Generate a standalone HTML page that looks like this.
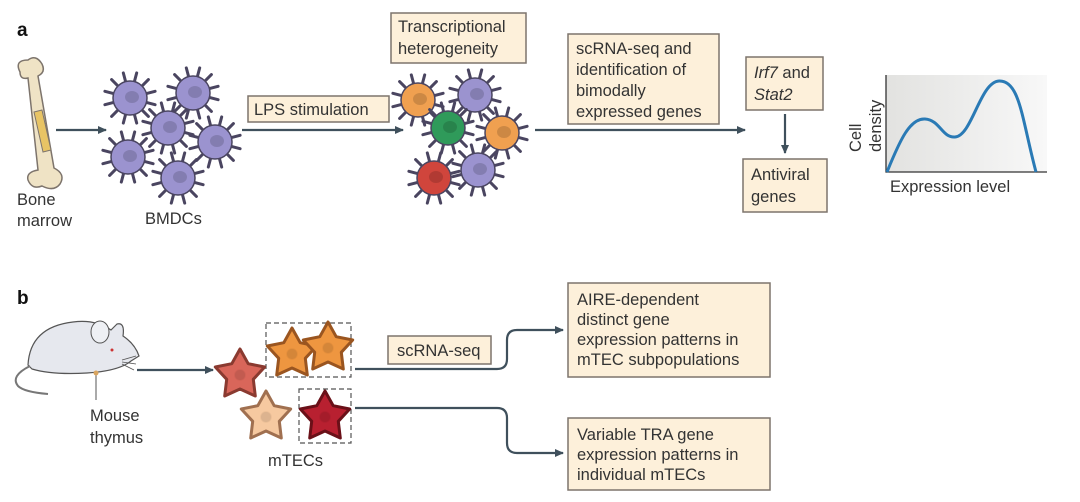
<!DOCTYPE html>
<html><head><meta charset="utf-8"><style>
html,body{margin:0;padding:0;background:#fff;}
svg{display:block;font-family:"Liberation Sans",sans-serif;}
.t{font-size:16.5px;fill:#333;}
.box{fill:#fdf0da;stroke:#7d746c;stroke-width:1.5;}
.ar{stroke:#3f505c;stroke-width:2.2;fill:none;}
</style></head><body>
<svg width="1080" height="502" viewBox="0 0 1080 502" xmlns="http://www.w3.org/2000/svg">
<defs>
<marker id="ah" markerWidth="10" markerHeight="10" refX="8" refY="5" orient="auto" markerUnits="userSpaceOnUse">
<path d="M0 1 L9 5 L0 9 Z" fill="#3f505c"/></marker>
<symbol id="cell" overflow="visible">
<path d="M14.5 3.9L25.1 6.7M10.6 10.6L18.4 18.4M3.9 14.5L6.7 25.1M-3.9 14.5L-6.7 25.1M-10.6 10.6L-18.4 18.4M-14.5 3.9L-25.1 6.7M14.5 -3.9L25.1 -6.7M10.6 -10.6L18.4 -18.4M3.9 -14.5L6.7 -25.1M-3.9 -14.5L-6.7 -25.1M-10.6 -10.6L-18.4 -18.4M-14.5 -3.9L-25.1 -6.7" stroke="currentColor" stroke-width="3" stroke-linecap="round"/>
<circle r="17" stroke="currentColor" stroke-width="1.5"/>
<ellipse cx="2" cy="-1" rx="7" ry="6" fill="#000" opacity="0.15"/>
</symbol>
<symbol id="star" overflow="visible">
<path d="M0 -26 L8.2 -11.3 L24.7 -8 L13.3 4.3 L15.3 21 L0 14 L-15.3 21 L-13.3 4.3 L-24.7 -8 L-8.2 -11.3 Z" stroke="currentColor" stroke-width="3" stroke-linejoin="round"/>
<circle r="5.5" fill="#000" opacity="0.1" stroke="currentColor" stroke-width="0.8"/>
</symbol>
<linearGradient id="gg" x1="0" x2="1" y1="0" y2="0"><stop offset="0" stop-color="#e2e2e0"/><stop offset="1" stop-color="#f8f8f8"/></linearGradient>
</defs>

<text x="17" y="36" style="font-size:19px;font-weight:bold;fill:#111">a</text>
<text x="17" y="304" style="font-size:19px;font-weight:bold;fill:#111">b</text>

<!-- bone -->
<path d="M20 72 q-6 -12 8 -12 q8 -6 14 4 q4 8 -4 12 L54 168 q12 6 6 16 q-6 8 -18 2 q-10 4 -14 -6 q-2 -8 10 -10 L28 78 q-8 2 -8 -6 Z" fill="#efe3c5" stroke="#7d746c" stroke-width="1.5"/>
<path d="M34 112 L42 110 L51 150 L43 152 Z" fill="#e8c465" stroke="#7d746c" stroke-width="1"/>
<text class="t" x="17" y="205">Bone</text>
<text class="t" x="17" y="226">marrow</text>
<line class="ar" x1="56" y1="130" x2="106" y2="130" marker-end="url(#ah)"/>

<!-- BMDCs -->
<g fill="#9b93cf" style="color:#4a4560">
<use href="#cell" x="130" y="98"/><use href="#cell" x="193" y="93"/>
<use href="#cell" x="128" y="157"/><use href="#cell" x="215" y="142"/>
<use href="#cell" x="168" y="128"/><use href="#cell" x="178" y="178"/>
</g>
<text class="t" x="145" y="224">BMDCs</text>

<line class="ar" x1="242" y1="130" x2="403" y2="130" marker-end="url(#ah)"/>
<rect class="box" x="248" y="96" width="141" height="26"/>
<text class="t" x="254" y="115">LPS stimulation</text>

<rect class="box" x="391" y="13" width="135" height="50"/>
<text class="t" x="398" y="32">Transcriptional</text>
<text class="t" x="398" y="54">heterogeneity</text>

<!-- hetero cells -->
<g style="color:#4a4560">
<use href="#cell" x="418" y="100" fill="#f0a050"/>
<use href="#cell" x="475" y="95" fill="#9b93cf"/>
<use href="#cell" x="502" y="133" fill="#f0a050"/>
<use href="#cell" x="478" y="170" fill="#9b93cf"/>
<use href="#cell" x="434" y="178" fill="#d0453c"/>
<use href="#cell" x="448" y="128" fill="#2f9a5a"/>
</g>

<line class="ar" x1="535" y1="130" x2="745" y2="130" marker-end="url(#ah)"/>
<rect class="box" x="568" y="34" width="151" height="90"/>
<text class="t" x="576" y="54">scRNA-seq and</text>
<text class="t" x="576" y="75">identification of</text>
<text class="t" x="576" y="96">bimodally</text>
<text class="t" x="576" y="117">expressed genes</text>

<rect class="box" x="746" y="57" width="77" height="53"/>
<text class="t" x="754" y="78"><tspan font-style="italic">Irf7</tspan> and</text>
<text class="t" x="754" y="100" font-style="italic">Stat2</text>
<line class="ar" x1="785" y1="114" x2="785" y2="153" marker-end="url(#ah)"/>
<rect class="box" x="743" y="159" width="84" height="53"/>
<text class="t" x="751" y="180">Antiviral</text>
<text class="t" x="751" y="202">genes</text>

<!-- graph -->
<rect x="886" y="75" width="161" height="97" fill="url(#gg)"/>
<path d="M886 75 V172 H1047" stroke="#333" stroke-width="1.3" fill="none"/>
<path d="M887 172 C900 140 910 118 925 119 C940 120 942 138 955 137 C972 136 980 82 999 81 C1020 80 1022 120 1036 172" stroke="#2a7ab5" stroke-width="3" fill="none"/>
<text class="t" transform="translate(861 152) rotate(-90)">Cell</text>
<text class="t" transform="translate(881 152) rotate(-90)">density</text>
<text class="t" x="890" y="192">Expression level</text>

<!-- mouse -->
<path d="M28 365 q2 -38 45 -43 q22 -3 38 8 l6 -6 q8 -2 6 12 q12 8 16 20 l-8 5 q-12 10 -44 12 q-35 2 -55 -4 Z" fill="#e6e8ee" stroke="#555" stroke-width="1.2"/>
<ellipse cx="100" cy="332" rx="9" ry="11" fill="#eef0f4" stroke="#555" stroke-width="1"/>
<circle cx="112" cy="350" r="1.5" fill="#c33"/>
<path d="M30 366 q-20 10 -12 20 q6 6 30 8" stroke="#777" stroke-width="2" fill="none"/>
<path d="M122 360 l14 -4 M122 362 l14 2 M122 364 l12 6" stroke="#555" stroke-width="0.8"/>
<line x1="96" y1="375" x2="96" y2="400" stroke="#555" stroke-width="1"/>
<circle cx="96" cy="373" r="2.5" fill="#d9a560"/>
<text class="t" x="90" y="421">Mouse</text>
<text class="t" x="90" y="443">thymus</text>
<line class="ar" x1="137" y1="370" x2="213" y2="370" marker-end="url(#ah)"/>

<!-- stars -->
<rect x="266" y="323" width="85" height="54" fill="none" stroke="#555" stroke-width="1.2" stroke-dasharray="5 3"/>
<rect x="299" y="389" width="52" height="54" fill="none" stroke="#555" stroke-width="1.2" stroke-dasharray="5 3"/>
<use href="#star" x="240" y="375" fill="#d9665a" style="color:#8a3a30"/>
<use href="#star" x="292" y="354" fill="#ee9640" style="color:#9a5520"/>
<use href="#star" x="328" y="348" fill="#ee9640" style="color:#9a5520"/>
<use href="#star" x="266" y="417" fill="#f6c9a0" style="color:#a07050"/>
<use href="#star" x="325" y="417" fill="#b82030" style="color:#6a1018"/>
<text class="t" x="268" y="466">mTECs</text>

<rect class="box" x="388" y="336" width="103" height="28"/>
<text class="t" x="397" y="356">scRNA-seq</text>

<path class="ar" d="M355 369 H497 Q507 369 507 359 V340 Q507 330 517 330 H563" marker-end="url(#ah)"/>
<path class="ar" d="M355 408 H497 Q507 408 507 418 V443 Q507 453 517 453 H563" marker-end="url(#ah)"/>

<rect class="box" x="568" y="283" width="202" height="94"/>
<text class="t" x="577" y="305">AIRE-dependent</text>
<text class="t" x="577" y="325">distinct gene</text>
<text class="t" x="577" y="345">expression patterns in</text>
<text class="t" x="577" y="365">mTEC subpopulations</text>

<rect class="box" x="568" y="418" width="202" height="72"/>
<text class="t" x="577" y="440">Variable TRA gene</text>
<text class="t" x="577" y="460">expression patterns in</text>
<text class="t" x="577" y="480">individual mTECs</text>
</svg>
</body></html>
